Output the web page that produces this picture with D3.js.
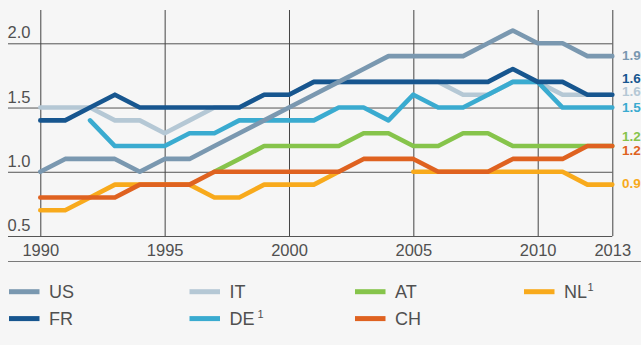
<!DOCTYPE html>
<html>
<head>
<meta charset="utf-8">
<script src="https://cdn.jsdelivr.net/npm/d3@7"></script>
<style>
  html, body { margin: 0; padding: 0; background: #f6f6f6; }
  svg { display: block; }
  text { font-family: "Liberation Sans", Arial, sans-serif; }
</style>
</head>
<body>
<svg id="chart" width="641" height="345"></svg>
<script>
// Years on the horizontal axis
const years = [1990, 1991, 1992, 1993, 1994, 1995, 1996, 1997, 1998, 1999, 2000, 2001,
               2002, 2003, 2004, 2005, 2006, 2007, 2008, 2009, 2010, 2011, 2012, 2013];

// One value per year; null where a country has no figure
const US = [1.0, 1.1, 1.1, 1.1, 1.0, 1.1, 1.1, 1.2, 1.3, 1.4, 1.5, 1.6,
            1.7, 1.8, 1.9, 1.9, 1.9, 1.9, 2.0, 2.1, 2.0, 2.0, 1.9, 1.9];
const FR = [1.4, 1.4, 1.5, 1.6, 1.5, 1.5, 1.5, 1.5, 1.5, 1.6, 1.6, 1.7,
            1.7, 1.7, 1.7, 1.7, 1.7, 1.7, 1.7, 1.8, 1.7, 1.7, 1.6, 1.6];
const IT = [1.5, 1.5, 1.5, 1.4, 1.4, 1.3, 1.4, 1.5, 1.5, 1.6, 1.6, 1.7,
            1.7, 1.7, 1.7, 1.7, 1.7, 1.6, 1.6, 1.7, 1.7, 1.6, 1.6, 1.6];
const DE = [null, null, 1.4, 1.2, 1.2, 1.2, 1.3, 1.3, 1.4, 1.4, 1.4, 1.4,
            1.5, 1.5, 1.4, 1.6, 1.5, 1.5, 1.6, 1.7, 1.7, 1.5, 1.5, 1.5];
const AT = [null, null, null, null, null, null, null, 1.0, 1.1, 1.2, 1.2, 1.2,
            1.2, 1.3, 1.3, 1.2, 1.2, 1.3, 1.3, 1.2, 1.2, 1.2, 1.2, 1.2];
const CH = [0.8, 0.8, 0.8, 0.8, 0.9, 0.9, 0.9, 1.0, 1.0, 1.0, 1.0, 1.0,
            1.0, 1.1, 1.1, 1.1, 1.0, 1.0, 1.0, 1.1, 1.1, 1.1, 1.2, 1.2];
const NL = [0.7, 0.7, 0.8, 0.9, 0.9, 0.9, 0.9, 0.8, 0.8, 0.9, 0.9, 0.9,
            1.0, null, null, 1.0, 1.0, 1.0, 1.0, 1.0, 1.0, 1.0, 0.9, 0.9];

// Axis ticks
const xTicks = [1990, 1995, 2000, 2005, 2010, 2013];
const yTicks = [0.5, 1.0, 1.5, 2.0];

// Series: drawing order (bottom to top), colours, legend superscripts, end-label nudges
const series = [
  { key: "IT", values: IT, color: "#b5c8d5", sup: "",  labelDy: -3 },
  { key: "NL", values: NL, color: "#f8aa1c", sup: "1", labelDy: -1 },
  { key: "AT", values: AT, color: "#86c44b", sup: "",  labelDy: -9.5 },
  { key: "CH", values: CH, color: "#df6220", sup: "",  labelDy: 4 },
  { key: "DE", values: DE, color: "#3aabd0", sup: "1", labelDy: 0 },
  { key: "FR", values: FR, color: "#17568f", sup: "",  labelDy: -16.5 },
  { key: "US", values: US, color: "#7a98b0", sup: "",  labelDy: -0.5 }
];

// Legend layout: column-major, two rows
const legendOrder = [["US", "FR"], ["IT", "DE"], ["AT", "CH"], ["NL"]];

const svg = d3.select("#chart");
const gridLeft = 8, plotLeft = 40.3, plotRight = 612.3;
const plotTop = 10, plotBottom = 236, yTop = 43.3;
const textColor = "#505050";

const x = d3.scaleLinear().domain([1990, 2013]).range([plotLeft, plotRight]);
const y = d3.scaleLinear().domain([0.5, 2.0]).range([plotBottom, yTop]);

const tickFont = "16.5px";

// Horizontal gridlines with labels above them at the left edge
const yAxis = d3.axisLeft(y).tickValues(yTicks).tickSize(plotRight - gridLeft)
  .tickFormat(d3.format(".1f"));
const gY = svg.append("g").attr("transform", `translate(${plotRight},0)`).call(yAxis);
gY.select(".domain").remove();
gY.selectAll(".tick line").attr("stroke", "#555").attr("stroke-width", 1);
gY.selectAll(".tick text")
  .attr("x", -(plotRight - gridLeft) - 0.5)
  .attr("dy", -5.5)
  .attr("text-anchor", "start")
  .attr("fill", textColor)
  .style("font-size", tickFont);

// Vertical gridlines and year labels
const xAxis = d3.axisBottom(x).tickValues(xTicks).tickSize(-(plotBottom - plotTop))
  .tickFormat(d3.format("d"));
const gX = svg.append("g").attr("transform", `translate(0,${plotBottom})`).call(xAxis);
gX.select(".domain").remove();
gX.selectAll(".tick line").attr("stroke", "#444").attr("stroke-width", 1);
gX.selectAll(".tick text")
  .attr("y", 20).attr("dy", 0)
  .attr("fill", textColor)
  .style("font-size", tickFont);

// Separator above the legend
svg.append("line")
  .attr("x1", gridLeft).attr("x2", 641)
  .attr("y1", 261.5).attr("y2", 261.5)
  .attr("stroke", "#7a7a7a").attr("stroke-width", 1.2);

// Series lines
const line = d3.line()
  .defined(d => d != null)
  .x((d, i) => x(years[i]))
  .y(d => y(d));

svg.append("g").selectAll("path")
  .data(series)
  .join("path")
  .attr("d", s => line(s.values))
  .attr("fill", "none")
  .attr("stroke", s => s.color)
  .attr("stroke-width", 4.6)
  .attr("stroke-linecap", "round")
  .attr("stroke-linejoin", "round");

// Latest value at the right end of each line
svg.append("g").selectAll("text")
  .data(series)
  .join("text")
  .attr("x", 622)
  .attr("y", s => y(s.values[s.values.length - 1]) + s.labelDy)
  .attr("dominant-baseline", "central")
  .attr("fill", s => s.color)
  .style("font-size", "13.5px")
  .style("font-weight", "bold")
  .text(s => d3.format(".1f")(s.values[s.values.length - 1]));

// Legend
const byKey = Object.fromEntries(series.map(s => [s.key, s]));
const colX = [9, 189.5, 355, 524];
const rowY = [291.7, 318.6];
const legend = svg.append("g");
legendOrder.forEach((col, ci) => {
  col.forEach((key, ri) => {
    const s = byKey[key];
    const g = legend.append("g").attr("transform", `translate(${colX[ci]},${rowY[ri]})`);
    g.append("rect")
      .attr("x", 0).attr("y", -2.5)
      .attr("width", 30.5).attr("height", 5)
      .attr("fill", s.color);
    const t = g.append("text")
      .attr("x", 40).attr("y", 6)
      .attr("fill", textColor)
      .style("font-size", "18px")
      .text(key);
    if (s.sup) {
      t.append("tspan")
        .attr("dx", key === "DE" ? 3 : 0.5)
        .attr("dy", -7)
        .style("font-size", "11px")
        .text(s.sup);
    }
  });
});
</script>
</body>
</html>
